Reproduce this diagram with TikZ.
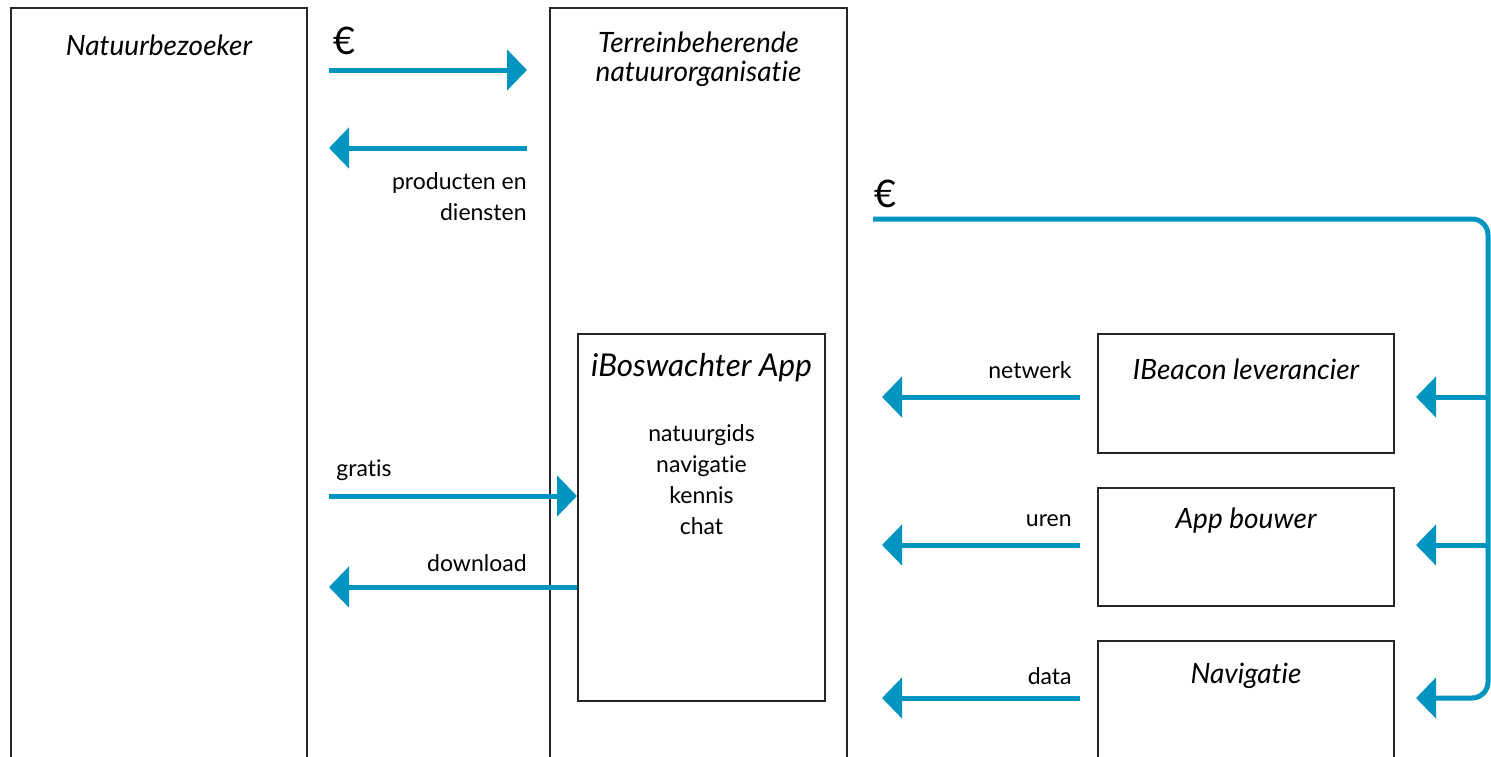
\documentclass[tikz,border=0pt]{standalone}
\usepackage{fontspec}
\setmainfont{Lato}[Ligatures=NoCommon]
\usetikzlibrary{arrows.meta,positioning}
\definecolor{flowblue}{HTML}{0094C0}

\begin{document}
\begin{tikzpicture}[x=0.5pt, y=-0.5pt, font=\fontsize{11.5}{15.5}\selectfont,
	box/.style={draw=black!85, line width=1pt, anchor=north west, inner sep=0pt},
	title/.style={font=\fontsize{14}{14.5}\selectfont\itshape, align=center},
	tag/.style={inner sep=0pt},
	flow/.style={draw=flowblue, line width=2.5pt, -{Triangle[length=10pt,width=20pt]}},
	euro/.style={font=\fontsize{19}{19}\selectfont}]
		\useasboundingbox (0,0) rectangle (1491,756);
		% boxes
		\node[box, minimum width=148pt, minimum height=385pt] (bezoeker) at (10,7) {};
		\node[box, minimum width=148.5pt, minimum height=385pt] (organisatie) at (549,7) {};
		\node[box, minimum width=123.5pt, minimum height=183.5pt] (app) at (577,333) {};
		\node[box, minimum width=148pt, minimum height=59.5pt] (ibeacon) at (1097,333) {};
		\node[box, minimum width=148pt, minimum height=59pt] (bouwer) at (1097,487) {};
		\node[box, minimum width=148pt, minimum height=70pt] (navigatie) at (1097,640) {};
		\node[title] at ([yshift=-19pt]bezoeker.north) {Natuurbezoeker};
		\node[title] at ([yshift=-26pt]organisatie.north) {Terreinbeherende\\natuurorganisatie};
		\node[title, font=\fontsize{15.7}{16}\selectfont\itshape] at ([yshift=-17.5pt]app.north) {iBoswachter App};
		\node[align=center] at ([yshift=-73.5pt]app.north) {natuurgids\\navigatie\\kennis\\chat};
		\node[title] at ([yshift=-18pt]ibeacon.north) {IBeacon leverancier};
		\node[title] at ([yshift=-17pt]bouwer.north) {App bouwer};
		\node[title] at ([yshift=-18pt]navigatie.north) {Navigatie};
		% left flows
		\draw[flow, shorten <=10.5pt, shorten >=11pt] (bezoeker.east |- 0,70) -- (organisatie.west |- 0,70);
		\node[euro] at (345,41) {€};
		\draw[flow, shorten <=11pt, shorten >=10.5pt] (organisatie.west |- 0,148) -- (bezoeker.east |- 0,148);
		\node[tag, anchor=east, align=right] at (527,197) {producten en\\diensten};
		\draw[flow, shorten <=10.5pt] (bezoeker.east |- 0,496) -- (app.west |- 0,496);
		\node[tag, anchor=west] at (336,470) {gratis};
		\draw[flow, shorten >=10.5pt] (app.west |- 0,587) -- (bezoeker.east |- 0,587);
		\node[tag, anchor=east] at (527,563) {download};
		% right flows
		\draw[flow, shorten <=8.5pt, shorten >=17pt] (ibeacon.west |- 0,397) -- (organisatie.east |- 0,397);
		\node[tag, anchor=east] at (1072,370) {netwerk};
		\draw[flow, shorten <=8.5pt, shorten >=17pt] (bouwer.west |- 0,545) -- (organisatie.east |- 0,545);
		\node[tag, anchor=east] at (1072,521) {uren};
		\draw[flow, shorten <=8.5pt, shorten >=17pt] (navigatie.west |- 0,698) -- (organisatie.east |- 0,698);
		\node[tag, anchor=east] at (1072,676) {data};
		% payment to suppliers
		\coordinate (start) at (873,219);
		\coordinate (rail) at (1488,219);
		\node[euro] at (886,194) {€};
		\draw[flow, rounded corners=8pt, shorten >=10.5pt] (start) -- (rail) -- (rail |- 0,698) -- (navigatie.east |- 0,698);
		\draw[flow, shorten >=10.5pt] (rail |- 0,397) -- (ibeacon.east |- 0,397);
		\draw[flow, shorten >=10.5pt] (rail |- 0,545) -- (bouwer.east |- 0,545);
	\end{tikzpicture}
\end{document}
